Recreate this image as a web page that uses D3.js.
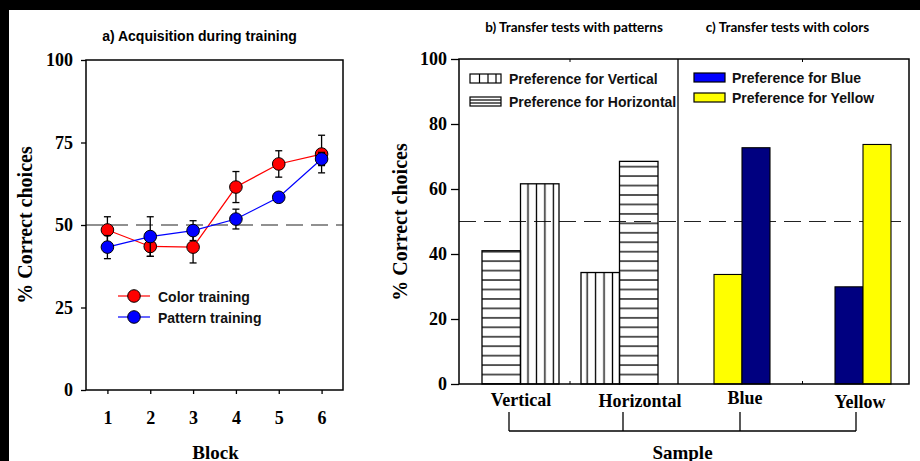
<!DOCTYPE html>
<html lang="en">
<head>
  <meta charset="UTF-8">
  <title>Acquisition and transfer tests</title>
  <script src="https://d3js.org/d3.v7.min.js"></script>
  <style>
    body { margin: 0; padding: 0; background: white; }
    svg { display: block; }
  </style>
</head>
<body>
  <svg id="chart"></svg>

  <script>
    // ---- data ----
    // a) acquisition during training
    const blocks = [1, 2, 3, 4, 5, 6];
    const colorTraining = [48.5, 43.5, 43.3, 61.5, 68.5, 71.5];
    const colorSE = [4, 3, 4.8, 4.7, 4, 5.7];
    const patternTraining = [43.3, 46.5, 48.3, 51.8, 58.4, 70];
    const patternSE = [3.5, 6, 3, 3, 1, 2];
    const yTicksA = [0, 25, 50, 75, 100];

    // b) transfer tests with patterns
    const patternSamples = ["Vertical", "Horizontal"];
    const prefVertical = [61.6, 34.3];
    const prefHorizontal = [41.0, 68.5];

    // c) transfer tests with colors
    const colorSamples = ["Blue", "Yellow"];
    const prefBlue = [72.7, 29.9];
    const prefYellow = [33.7, 73.7];

    const yTicksB = [0, 20, 40, 60, 80, 100];
    const chance = 50;

    const serif = "'Liberation Serif', 'Times New Roman', serif";
    const sans = "'Liberation Sans', Arial, sans-serif";
    const titleFont = "Lato, 'Open Sans', sans-serif";

    const W = 920, H = 461;
    const svg = d3.select("#chart").attr("width", W).attr("height", H);

    svg.append("rect").attr("width", W).attr("height", H).attr("fill", "white");
    // black strips from the scanned figure
    svg.append("rect").attr("width", W).attr("height", 10).attr("fill", "black");
    svg.append("rect").attr("width", 9).attr("height", H).attr("fill", "black");

    function styleAxis(g, size) {
      g.select(".domain").remove();
      g.selectAll(".tick line").attr("stroke", "black").attr("stroke-width", 1.3);
      g.selectAll(".tick text")
        .attr("font-family", serif)
        .attr("font-weight", "bold")
        .attr("font-size", size)
        .attr("fill", "black");
    }

    /**********************************
     * Panel a: line chart
     **********************************/
    const xA = d3.scaleLinear().domain([0.5, 6.5]).range([86, 343]);
    const yA = d3.scaleLinear().domain([0, 100]).range([390, 60]);

    svg.append("text")
      .attr("x", 199.5).attr("y", 36)
      .attr("text-anchor", "middle").attr("dominant-baseline", "central")
      .attr("font-family", sans).attr("font-weight", "bold").attr("font-size", 14)
      .text("a) Acquisition during training");

    svg.append("g").attr("transform", "translate(86,0)")
      .call(d3.axisLeft(yA).tickValues(yTicksA).tickFormat(d3.format("d")).tickSize(5).tickPadding(8))
      .call(g => styleAxis(g, 18));

    svg.append("g").attr("transform", "translate(0,390)")
      .call(d3.axisBottom(xA).tickValues(blocks).tickFormat(d3.format("d")).tickSize(4).tickPadding(17))
      .call(g => styleAxis(g, 18));

    // chance line
    svg.append("line")
      .attr("x1", xA.range()[0]).attr("x2", xA.range()[1])
      .attr("y1", yA(chance)).attr("y2", yA(chance))
      .attr("stroke", "#222").attr("stroke-width", 1.1)
      .attr("stroke-dasharray", "17,8");

    const seriesA = [
      { name: "Color training", color: "#ff0000", values: colorTraining, se: colorSE },
      { name: "Pattern training", color: "#0000ff", values: patternTraining, se: patternSE }
    ];

    const lineA = d3.line().x((d, i) => xA(blocks[i])).y(d => yA(d));

    seriesA.forEach(s => {
      const g = svg.append("g");
      g.append("path")
        .attr("d", lineA(s.values))
        .attr("fill", "none").attr("stroke", s.color).attr("stroke-width", 1.2);

      const pts = s.values.map((v, i) => ({ x: blocks[i], v: v, e: s.se[i] }));

      const err = g.selectAll(".err").data(pts).enter().append("g");
      err.append("line")
        .attr("x1", d => xA(d.x)).attr("x2", d => xA(d.x))
        .attr("y1", d => yA(d.v - d.e)).attr("y2", d => yA(d.v + d.e))
        .attr("stroke", "black").attr("stroke-width", 1.3);
      [-1, 1].forEach(sign => {
        err.append("line")
          .attr("x1", d => xA(d.x) - 3.5).attr("x2", d => xA(d.x) + 3.5)
          .attr("y1", d => yA(d.v + sign * d.e)).attr("y2", d => yA(d.v + sign * d.e))
          .attr("stroke", "black").attr("stroke-width", 1.3);
      });

      g.selectAll(".pt").data(pts).enter().append("circle")
        .attr("cx", d => xA(d.x)).attr("cy", d => yA(d.v))
        .attr("r", 6.3)
        .attr("fill", s.color).attr("stroke", "black").attr("stroke-width", 1);
    });

    // frame on top
    svg.append("rect")
      .attr("x", 86).attr("y", 60).attr("width", 257).attr("height", 330)
      .attr("fill", "none").attr("stroke", "black").attr("stroke-width", 1.5);

    // legend a
    seriesA.forEach((s, i) => {
      const y = 296 + i * 21;
      svg.append("line").attr("x1", 118).attr("x2", 150).attr("y1", y).attr("y2", y)
        .attr("stroke", s.color).attr("stroke-width", 1.2);
      svg.append("circle").attr("cx", 134).attr("cy", y).attr("r", 6.3)
        .attr("fill", s.color).attr("stroke", "black").attr("stroke-width", 1);
      svg.append("text").attr("x", 158).attr("y", y + 0.5)
        .attr("dominant-baseline", "central")
        .attr("font-family", sans).attr("font-weight", "bold").attr("font-size", 14)
        .attr("fill", "#111")
        .text(s.name);
    });

    svg.append("text")
      .attr("transform", "translate(25,225) rotate(-90)")
      .attr("text-anchor", "middle").attr("dominant-baseline", "central")
      .attr("font-family", serif).attr("font-weight", "bold").attr("font-size", 20)
      .text("% Correct choices");

    svg.append("text")
      .attr("x", 215.5).attr("y", 452)
      .attr("text-anchor", "middle").attr("dominant-baseline", "central")
      .attr("font-family", serif).attr("font-weight", "bold").attr("font-size", 19)
      .text("Block");

    /**********************************
     * Panels b and c: grouped bars
     **********************************/
    const yB = d3.scaleLinear().domain([0, 100]).range([384, 59]);
    const xPat = d3.scalePoint().domain(patternSamples).range([520.5, 619.5]);
    const xCol = d3.scalePoint().domain(colorSamples).range([742, 863]);
    const patW = 38.5, colW = 28;
    const frameB = { x0: 459, x1: 909, divider: 678 };

    // hatch patterns
    const defs = svg.append("defs");
    const vs = 8.45, hs = 9.45;
    defs.append("pattern").attr("id", "vstripe")
      .attr("patternUnits", "userSpaceOnUse")
      .attr("x", 528 - vs / 2).attr("y", 0).attr("width", vs).attr("height", 10)
      .append("path").attr("d", `M${vs / 2},-1V11`)
      .attr("stroke", "black").attr("stroke-width", 1.3);
    defs.append("pattern").attr("id", "hstripe")
      .attr("patternUnits", "userSpaceOnUse")
      .attr("x", 0).attr("y", yB(0) - hs / 2).attr("width", 10).attr("height", hs)
      .append("path").attr("d", `M-1,${hs / 2}H11`)
      .attr("stroke", "black").attr("stroke-width", 1.3);

    svg.append("text")
      .attr("x", 574).attr("y", 27)
      .attr("text-anchor", "middle").attr("dominant-baseline", "central")
      .attr("font-family", titleFont).attr("font-weight", "bold").attr("font-size", 13.5)
      .text("b) Transfer tests with patterns");
    svg.append("text")
      .attr("x", 787.5).attr("y", 27)
      .attr("text-anchor", "middle").attr("dominant-baseline", "central")
      .attr("font-family", titleFont).attr("font-weight", "bold").attr("font-size", 13.5)
      .text("c) Transfer tests with colors");

    svg.append("g").attr("transform", `translate(${frameB.x0},0)`)
      .call(d3.axisLeft(yB).tickValues(yTicksB).tickFormat(d3.format("d")).tickSize(8).tickPadding(4))
      .call(g => styleAxis(g, 18));

    svg.append("line")
      .attr("x1", frameB.x0).attr("x2", frameB.x1)
      .attr("y1", yB(chance)).attr("y2", yB(chance))
      .attr("stroke", "#222").attr("stroke-width", 1.1)
      .attr("stroke-dasharray", "17,8");

    // first bar = preference for the other stimulus, second = for the sample
    const patBars = patternSamples.flatMap((s, i) => {
      const v = { pref: "Vertical", value: prefVertical[i], fill: "url(#vstripe)" };
      const h = { pref: "Horizontal", value: prefHorizontal[i], fill: "url(#hstripe)" };
      const pair = s === "Vertical" ? [h, v] : [v, h];
      return pair.map((b, k) => Object.assign({ sample: s, slot: k }, b));
    });
    const colBars = colorSamples.flatMap((s, i) => {
      const b = { pref: "Blue", value: prefBlue[i], fill: "#000080" };
      const y = { pref: "Yellow", value: prefYellow[i], fill: "#ffff00" };
      const pair = s === "Blue" ? [y, b] : [b, y];
      return pair.map((d, k) => Object.assign({ sample: s, slot: k }, d));
    });

    svg.selectAll(".patbar").data(patBars).enter().append("rect")
      .attr("class", "patbar")
      .attr("x", d => xPat(d.sample) + (d.slot - 1) * patW)
      .attr("y", d => yB(d.value))
      .attr("width", patW)
      .attr("height", d => yB(0) - yB(d.value))
      .attr("fill", d => d.fill)
      .attr("stroke", "black").attr("stroke-width", 1.3);

    svg.selectAll(".colbar").data(colBars).enter().append("rect")
      .attr("class", "colbar")
      .attr("x", d => xCol(d.sample) + (d.slot - 1) * colW)
      .attr("y", d => yB(d.value))
      .attr("width", colW)
      .attr("height", d => yB(0) - yB(d.value))
      .attr("fill", d => d.fill)
      .attr("stroke", "black").attr("stroke-width", 1.1);

    // frame, divider and group boundary ticks
    svg.append("rect")
      .attr("x", frameB.x0).attr("y", yB(100))
      .attr("width", frameB.x1 - frameB.x0).attr("height", yB(0) - yB(100))
      .attr("fill", "none").attr("stroke", "black").attr("stroke-width", 1.5);
    svg.append("line")
      .attr("x1", frameB.divider).attr("x2", frameB.divider)
      .attr("y1", yB(100)).attr("y2", yB(0))
      .attr("stroke", "black").attr("stroke-width", 1.3);
    const bounds = [
      (xPat(patternSamples[0]) + xPat(patternSamples[1])) / 2,
      (xCol(colorSamples[0]) + xCol(colorSamples[1])) / 2
    ];
    bounds.forEach(bx => {
      svg.append("line").attr("x1", bx).attr("x2", bx)
        .attr("y1", yB(0)).attr("y2", yB(0) - 3)
        .attr("stroke", "black").attr("stroke-width", 1);
      svg.append("line").attr("x1", bx).attr("x2", bx)
        .attr("y1", yB(100)).attr("y2", yB(100) + 3)
        .attr("stroke", "black").attr("stroke-width", 1);
    });

    // category labels and "Sample" bracket
    const catPos = s => patternSamples.includes(s) ? xPat(s) : xCol(s);
    const labelNudge = { Vertical: [0.5, 0], Horizontal: [20.5, 1], Blue: [3, -2], Yellow: [-3, 2] };
    const bracketNudge = { Vertical: -11.5, Horizontal: 3.5, Blue: -2, Yellow: -7 };
    const allSamples = patternSamples.concat(colorSamples);

    svg.selectAll(".cat").data(allSamples).enter().append("text")
      .attr("x", d => catPos(d) + labelNudge[d][0])
      .attr("y", d => 400 + labelNudge[d][1])
      .attr("text-anchor", "middle").attr("dominant-baseline", "central")
      .attr("font-family", serif).attr("font-weight", "bold").attr("font-size", 18)
      .text(d => d);

    const bx = allSamples.map(s => catPos(s) + bracketNudge[s]);
    svg.append("line")
      .attr("x1", bx[0]).attr("x2", bx[bx.length - 1])
      .attr("y1", 431).attr("y2", 431)
      .attr("stroke", "black").attr("stroke-width", 1.3);
    bx.forEach(x => {
      svg.append("line").attr("x1", x).attr("x2", x).attr("y1", 412).attr("y2", 431)
        .attr("stroke", "black").attr("stroke-width", 1.3);
    });

    svg.append("text")
      .attr("x", 682.5).attr("y", 452)
      .attr("text-anchor", "middle").attr("dominant-baseline", "central")
      .attr("font-family", serif).attr("font-weight", "bold").attr("font-size", 19)
      .text("Sample");

    svg.append("text")
      .attr("transform", "translate(400,222) rotate(-90)")
      .attr("text-anchor", "middle").attr("dominant-baseline", "central")
      .attr("font-family", serif).attr("font-weight", "bold").attr("font-size", 20)
      .text("% Correct choices");

    // legend b (patterns)
    const legPat = [
      { label: "Preference for Vertical", y: 74, dir: "v" },
      { label: "Preference for Horizontal", y: 97, dir: "h" }
    ];
    legPat.forEach(l => {
      svg.append("rect").attr("x", 470).attr("y", l.y).attr("width", 31).attr("height", 9)
        .attr("fill", "white").attr("stroke", "black").attr("stroke-width", 1.2);
      if (l.dir === "v") {
        [479.5, 488, 496].forEach(x => svg.append("line")
          .attr("x1", x).attr("x2", x).attr("y1", l.y).attr("y2", l.y + 9)
          .attr("stroke", "black").attr("stroke-width", 1.2));
      } else {
        [3, 6].forEach(dy => svg.append("line")
          .attr("x1", 470).attr("x2", 501).attr("y1", l.y + dy).attr("y2", l.y + dy)
          .attr("stroke", "black").attr("stroke-width", 1.2));
      }
      svg.append("text").attr("x", 509).attr("y", l.y + 5)
        .attr("dominant-baseline", "central")
        .attr("font-family", sans).attr("font-weight", "bold").attr("font-size", 14)
        .attr("fill", "#111")
        .text(l.label);
    });

    // legend c (colors)
    const legCol = [
      { label: "Preference for Blue", y: 73, fill: "#0000ff" },
      { label: "Preference for Yellow", y: 93, fill: "#ffff00" }
    ];
    legCol.forEach(l => {
      svg.append("rect").attr("x", 694).attr("y", l.y).attr("width", 31).attr("height", 9)
        .attr("fill", l.fill).attr("stroke", "black").attr("stroke-width", 1.2);
      svg.append("text").attr("x", 732).attr("y", l.y + 4.5)
        .attr("dominant-baseline", "central")
        .attr("font-family", sans).attr("font-weight", "bold").attr("font-size", 14)
        .attr("fill", "#111")
        .text(l.label);
    });
  </script>
</body>
</html>
